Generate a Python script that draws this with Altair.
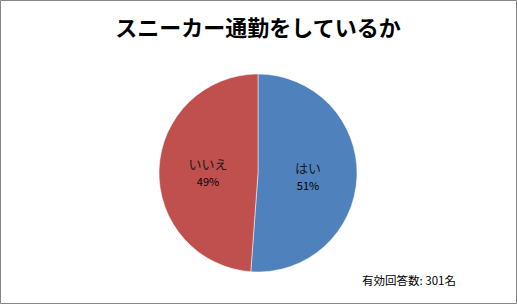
import altair as alt
import pandas as pd

categories = ["はい", "いいえ"]
counts = [154, 147]
pct_labels = ["51%", "49%"]
colors = ["#4F81BD", "#C0504D"]
title_text = "スニーカー通勤をしているか"
note_text = "有効回答数: 301名"

df = pd.DataFrame({"cat": categories, "n": counts, "pct": pct_labels, "order": [0, 1]})

FONT = "Noto Sans CJK JP"
CX, CY, R = 258, 173, 99

base = alt.Chart(df).encode(
    theta=alt.Theta("n:Q", stack=True),
    order=alt.Order("order:Q"),
)

pie = base.mark_arc(outerRadius=R, stroke="white", strokeWidth=0.5).encode(
    color=alt.Color("cat:N", scale=alt.Scale(domain=categories, range=colors), legend=None),
    x=alt.value(CX), y=alt.value(CY),
)

names = base.mark_text(radius=50, dy=-6, fontSize=13, font=FONT, color="#1a1a1a").encode(
    text="cat:N", x=alt.value(CX), y=alt.value(CY),
)
pcts = base.mark_text(radius=50, dy=12, fontSize=11, font=FONT, color="#000000").encode(
    text="pct:N", x=alt.value(CX), y=alt.value(CY),
)

title = alt.Chart(pd.DataFrame({"t": [title_text]})).mark_text(
    fontSize=22, fontWeight="bold", font=FONT, color="#000000", baseline="middle", align="center"
).encode(text="t:N", x=alt.value(258), y=alt.value(29))

note = alt.Chart(pd.DataFrame({"t": [note_text]})).mark_text(
    fontSize=11.5, font=FONT, color="#000000", baseline="middle", align="left"
).encode(text="t:N", x=alt.value(362), y=alt.value(282))

border = alt.Chart(pd.DataFrame({"a": [0]})).mark_rect(
    fill=None, stroke="#868686", strokeWidth=1
).encode(x=alt.value(0.5), x2=alt.value(516.5), y=alt.value(0.5), y2=alt.value(303.5))

chart = alt.layer(pie, names, pcts, title, note, border).properties(
    width=517, height=304, padding=0, autosize=alt.AutoSizeParams(type="none"),
    background="white",
).configure_view(stroke=None)

chart.save("out.html", embed_options={"renderer": "svg", "actions": False})
